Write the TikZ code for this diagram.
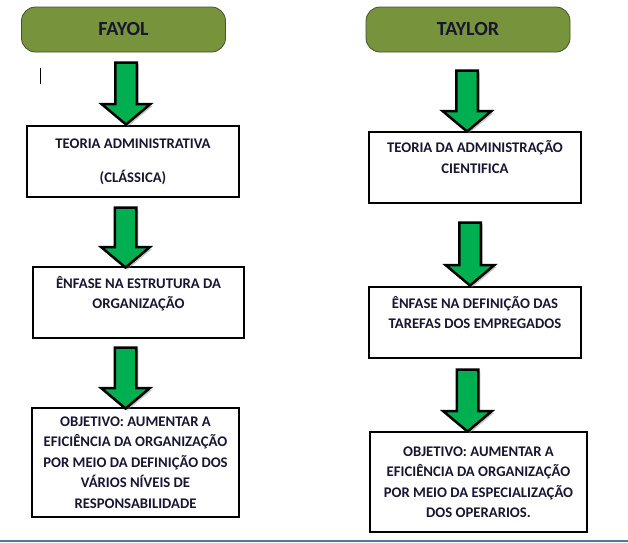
\documentclass[tikz,border=0pt]{standalone}
\usepackage{fontspec}
\setmainfont{Carlito}
\usetikzlibrary{shapes.arrows,shadows}
\definecolor{olivefill}{RGB}{119,147,60}
\definecolor{oliveline}{RGB}{70,80,50}
\definecolor{arrowgreen}{RGB}{0,176,80}
\definecolor{inktext}{RGB}{24,22,48}
\definecolor{pageline}{RGB}{79,120,168}
\begin{document}
\begin{tikzpicture}[x=1pt, y=-1pt,
    title/.style={draw=oliveline, line width=0.8pt, fill=olivefill, rounded corners=14pt,
        minimum width=204pt, minimum height=45pt, inner sep=0pt,
        font=\fontsize{20}{24}\selectfont\bfseries, text=inktext},
    textbox/.style={draw, line width=1.1pt, minimum width=#1, inner sep=0pt, align=center,
        font=\fontsize{14.7}{20.5}\selectfont\bfseries, text=inktext},
    downarrow/.style={single arrow, draw=black, line width=2.5pt, fill=arrowgreen,
        rotate=-90, minimum height=#1, inner xsep=0pt, inner ysep=9.5pt,
        single arrow head extend=13.5pt, single arrow tip angle=100,
        drop shadow={shadow xshift=2pt, shadow yshift=-2pt, opacity=0.45}}]
    \useasboundingbox (0,0) rectangle (628,542);

    % Define node positions
    \node[title] (fayol) at (123.5, 29.5) {FAYOL};
    \node[title] (taylor) at (468, 29.5) {TAYLOR};

    \node[textbox=212pt, minimum height=71pt] (classica) at (133, 161.5)
        {TEORIA ADMINISTRATIVA\\[13.5pt](CLÁSSICA)};
    \node[textbox=211pt, minimum height=71pt] (estrutura) at (138.5, 302.5)
        {ÊNFASE NA ESTRUTURA DA\\ORGANIZAÇÃO\\~};
    \node[textbox=207pt, minimum height=109pt] (niveis) at (135.5, 462.5)
        {OBJETIVO: AUMENTAR A\\EFICIÊNCIA DA ORGANIZAÇÃO\\POR MEIO DA DEFINIÇÃO DOS\\VÁRIOS NÍVEIS DE\\RESPONSABILIDADE};

    \node[textbox=212pt, minimum height=71pt] (cientifica) at (475, 167.5)
        {TEORIA DA ADMINISTRAÇÃO\\CIENTIFICA\\~};
    \node[textbox=212pt, minimum height=71pt] (tarefas) at (475, 322.5)
        {ÊNFASE NA DEFINIÇÃO DAS\\TAREFAS DOS EMPREGADOS\\~};
    \node[textbox=217pt, minimum height=100pt] (operarios) at (478.5, 482)
        {OBJETIVO: AUMENTAR A\\EFICIÊNCIA DA ORGANIZAÇÃO\\POR MEIO DA ESPECIALIZAÇÃO\\DOS OPERARIOS.};

    % Draw arrows
    \node[downarrow=62pt] (a1) at (126, 89) {};
    \node[downarrow=60pt] (a2) at (125.5, 233) {};
    \node[downarrow=61pt] (a3) at (125.5, 373.5) {};
    \node[downarrow=61pt] (b1) at (467, 96.5) {};
    \node[downarrow=63pt] (b2) at (470, 249.5) {};
    \node[downarrow=62pt] (b3) at (467.5, 396) {};

    % cursor mark and page edge
    \coordinate (marktop) at (40.5, 68);
    \coordinate (markbot) at (40.5, 84);
    \draw[line width=1.5pt] (marktop) -- (markbot);
    \coordinate (edgeleft) at (0, 541);
    \coordinate (edgeright) at (628, 541);
    \draw[pageline, line width=1.5pt] (edgeleft) -- (edgeright);
\end{tikzpicture}
\end{document}
